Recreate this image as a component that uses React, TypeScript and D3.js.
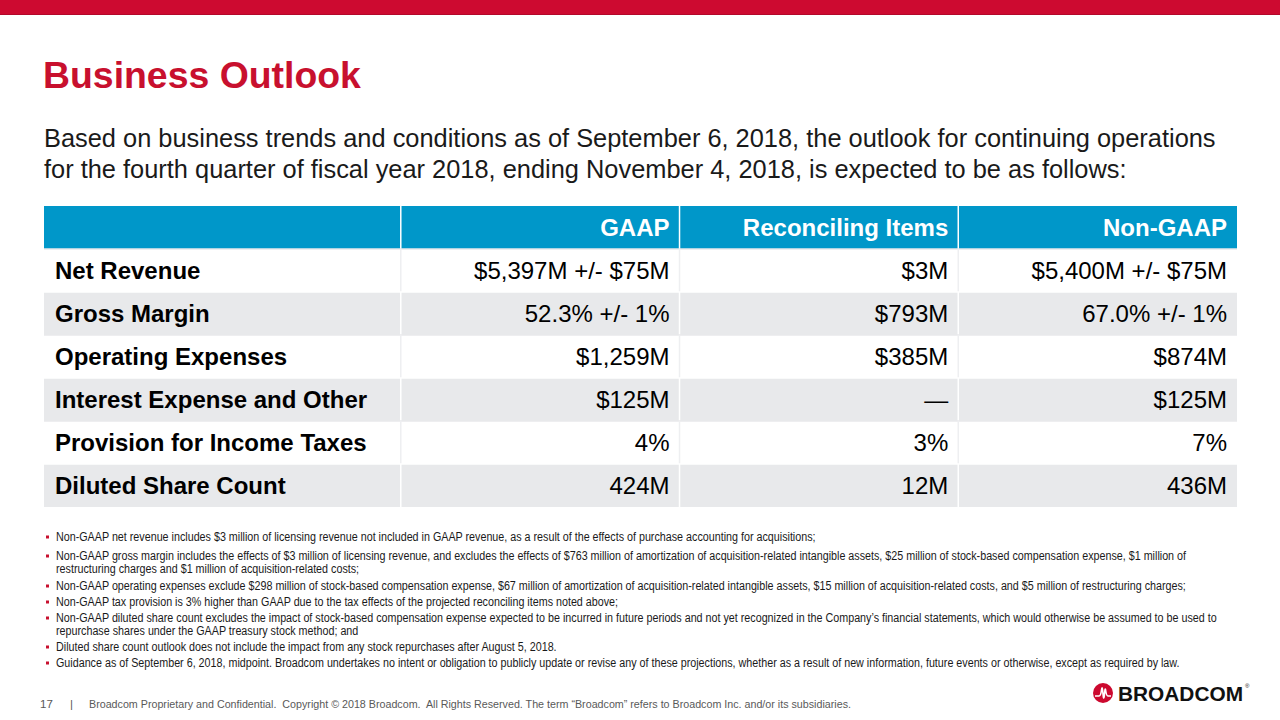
import React, { useLayoutEffect, useRef, useState } from "react";
import * as d3 from "d3";

const titleText = "Business Outlook";
const subtitleLines = [
  "Based on business trends and conditions as of September 6, 2018, the outlook for continuing operations",
  "for the fourth quarter of fiscal year 2018, ending November 4, 2018, is expected to be as follows:",
];

const columnHeaders = ["", "GAAP", "Reconciling Items", "Non-GAAP"];
const rowLabels = [
  "Net Revenue",
  "Gross Margin",
  "Operating Expenses",
  "Interest Expense and Other",
  "Provision for Income Taxes",
  "Diluted Share Count",
];
const gaapValues = ["$5,397M +/- $75M", "52.3% +/- 1%", "$1,259M", "$125M", "4%", "424M"];
const reconcilingValues = ["$3M", "$793M", "$385M", "\u2014", "3%", "12M"];
const nonGaapValues = ["$5,400M +/- $75M", "67.0% +/- 1%", "$874M", "$125M", "7%", "436M"];

const footnotes: string[][] = [
  ["Non-GAAP net revenue includes $3 million of licensing revenue not included in GAAP revenue, as a result of the effects of purchase accounting for acquisitions;"],
  [
    "Non-GAAP gross margin includes the effects of $3 million of licensing revenue, and excludes the effects of $763 million of amortization of acquisition-related intangible assets, $25 million of stock-based compensation expense, $1 million of",
    "restructuring charges and $1 million of acquisition-related costs;",
  ],
  ["Non-GAAP operating expenses exclude $298 million of stock-based compensation expense, $67 million of amortization of acquisition-related intangible assets, $15 million of acquisition-related costs, and $5 million of restructuring charges;"],
  ["Non-GAAP tax provision is 3% higher than GAAP due to the tax effects of the projected reconciling items noted above;"],
  [
    "Non-GAAP diluted share count excludes the impact of stock-based compensation expense expected to be incurred in future periods and not yet recognized in the Company\u2019s financial statements, which would otherwise be assumed to be used to",
    "repurchase shares under the GAAP treasury stock method; and",
  ],
  ["Diluted share count outlook does not include the impact from any stock repurchases after August 5, 2018."],
  ["Guidance as of September 6, 2018, midpoint. Broadcom undertakes no intent or obligation to publicly update or revise any of these projections, whether as a result of new information, future events or otherwise, except as required by law."],
];
const footnoteCenterY = [537, 556, 586, 602, 618, 647, 663];

const pageNumber = "17";
const footerText = "Broadcom Proprietary and Confidential.  Copyright \u00A9 2018 Broadcom.  All Rights Reserved. The term \u201CBroadcom\u201D refers to Broadcom Inc. and/or its subsidiaries.";

const RED = "#C8102E";
const BLUE = "#0097C9";
const GRAY = "#E8E9EB";
const FONT = "'Liberation Sans', Arial, sans-serif";

export default function App() {
  const refLine = useRef<SVGTextElement>(null);
  const [k, setK] = useState(0.85);

  useLayoutEffect(() => {
    if (refLine.current) {
      const w = refLine.current.getComputedTextLength();
      if (w > 0) setK(1124 / w);
    }
  }, []);

  const tableLeft = 44;
  const tableRight = 1237;
  const headerTop = 206;
  const headerBottom = 249;
  const tableBottom = 507;

  const colWeights = [1.28, 1, 1, 1];
  const cum = [0, ...d3.cumsum(colWeights)];
  const xCol = d3.scaleLinear().domain([0, cum[cum.length - 1]]).range([tableLeft, tableRight]);
  const colEdges = cum.map((c) => xCol(c));

  const yRow = d3.scaleBand<string>().domain(rowLabels).range([headerBottom, tableBottom]).paddingInner(0);
  const rowH = yRow.bandwidth();

  const valueCols = [gaapValues, reconcilingValues, nonGaapValues];

  return (
    <div style={{ position: "absolute", left: 0, top: 0 }}>
      <svg width={1280} height={720} style={{ display: "block", background: "#fff" }} fontFamily={FONT}>
        <rect x={0} y={0} width={1280} height={15} fill="#CD0A30" />
        <rect x={0} y={14} width={1280} height={1} fill="#B3082A" />

        <text x={43} y={88} fontSize={37.4} fontWeight="bold" fill={RED}>
          {titleText}
        </text>

        {subtitleLines.map((l, i) => (
          <text key={i} x={44} y={147 + i * 31} fontSize={25.4} fill="#1A1A1A">
            {l}
          </text>
        ))}

        {/* header */}
        <rect x={tableLeft} y={headerTop} width={tableRight - tableLeft} height={headerBottom - headerTop} fill={BLUE} />
        {colEdges.slice(1, -1).map((x, i) => (
          <line key={i} x1={x} x2={x} y1={headerTop} y2={headerBottom} stroke="#fff" strokeWidth={1.5} />
        ))}
        {columnHeaders.map((h, i) =>
          h ? (
            <text key={i} x={colEdges[i + 1] - 10} y={headerTop + 30} textAnchor="end" fontSize={24} fontWeight="bold" fill="#fff">
              {h}
            </text>
          ) : null
        )}

        {/* body rows */}
        {rowLabels.map((label, r) => {
          const y0 = yRow(label)!;
          const shaded = r % 2 === 1;
          return (
            <g key={label}>
              <rect x={tableLeft} y={y0} width={tableRight - tableLeft} height={rowH} fill={shaded ? GRAY : "#fff"} />
              <line x1={tableLeft} x2={tableRight} y1={y0} y2={y0} stroke={shaded ? "#fff" : GRAY} strokeWidth={1.5} />
              {colEdges.slice(1, -1).map((x, i) => (
                <line key={i} x1={x} x2={x} y1={y0} y2={y0 + rowH} stroke={shaded ? "#fff" : "#EEEFF1"} strokeWidth={1.5} />
              ))}
              <text x={tableLeft + 11} y={y0 + rowH / 2 + 8.5} fontSize={24} fontWeight="bold" fill="#000">
                {label}
              </text>
              {valueCols.map((vals, c) => (
                <text key={c} x={colEdges[c + 2] - 10} y={y0 + rowH / 2 + 8.5} textAnchor="end" fontSize={24} fill="#000">
                  {vals[r]}
                </text>
              ))}
            </g>
          );
        })}

        {/* footnotes */}
        {footnotes.map((fn, i) => (
          <g key={i}>
            <rect x={46} y={footnoteCenterY[i] - 1.5} width={3} height={3} fill={RED} />
            <g transform={`translate(56,0) scale(${k},1)`}>
              {fn.map((ln, j) => (
                <text
                  key={j}
                  ref={i === footnotes.length - 1 && j === 0 ? refLine : undefined}
                  x={0}
                  y={footnoteCenterY[i] + 4 + j * 13.5}
                  fontSize={12}
                  fill="#1A1A1A"
                >
                  {ln}
                </text>
              ))}
            </g>
          </g>
        ))}

        {/* footer */}
        <text x={40} y={708} fontSize={11.5} fill="#595959">{pageNumber}</text>
        <text x={70} y={708} fontSize={11.5} fill="#595959">|</text>
        <text x={89} y={708} fontSize={11.5} fill="#595959" textLength={762} lengthAdjust="spacingAndGlyphs" style={{ whiteSpace: "pre" }}>
          {footerText}
        </text>

        {/* logo */}
        <g transform="translate(1103,693)">
          <circle r={10} fill="#CC092F" />
          <path d="M-8,3 L-4,3 C-2.5,3 -2,1 -1.5,-3 C-1.2,-6 -0.6,-6 -0.4,-3 L0.2,3 C0.4,6 1,6 1.3,3 C1.6,-1 2.2,-6 2.6,-3 C3,0 3.5,3 5,3 L8,3" fill="none" stroke="#fff" strokeWidth={1.6} />
        </g>
        <text x={1118} y={701} fontSize={21} fontWeight="bold" fill="#111" textLength={125} lengthAdjust="spacingAndGlyphs">
          BROADCOM
        </text>
        <text x={1245} y={688} fontSize={6} fill="#111">®</text>
      </svg>
    </div>
  );
}
